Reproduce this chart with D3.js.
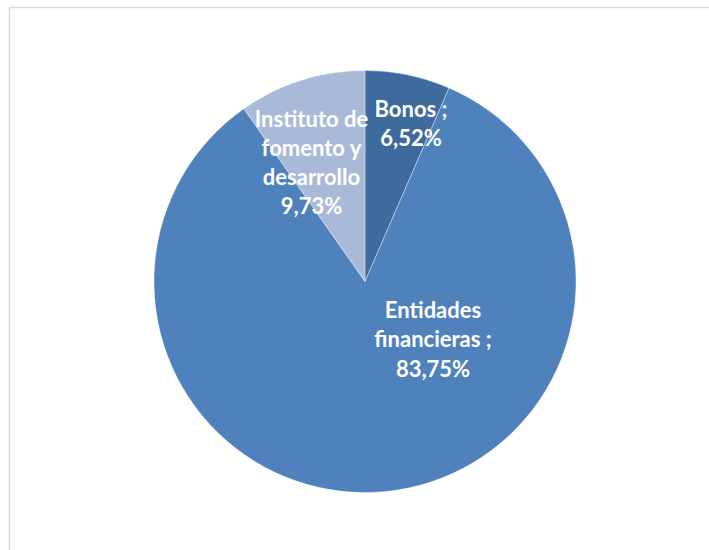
<!DOCTYPE html>
<html>
<head>
<meta charset="utf-8">
<script src="https://cdn.jsdelivr.net/npm/d3@7"></script>
<style>
  html, body { margin: 0; padding: 0; background: #fff; }
  svg { display: block; }
</style>
</head>
<body>
<svg id="chart" width="709" height="550"></svg>
<script>
const categories = ["Bonos", "Entidades financieras", "Instituto de fomento y desarrollo"];
const values = [6.52, 83.75, 9.73];
const labelLines = [
  ["Bonos ;", "6,52%"],
  ["Entidades", "financieras ;", "83,75%"],
  ["Instituto de", "fomento y", "desarrollo", "9,73%"]
];
const colors = ["#3F6A9E", "#4F81BD", "#A9B9D8"];

const W = 709, H = 550;
const cx = 365, cy = 281.5, R = 211;
// label anchor (first baseline) relative to pie centre, layout only
const labelPos = [[46, -164.5], [68, 36.5], [-53.5, -155]];
const lineH = 29.3;

const svg = d3.select("#chart");

// chart area border (extends beyond the picture to the right and bottom)
svg.append("path")
  .attr("d", `M9.5,${H + 5} L9.5,7.5 L${W + 5},7.5`)
  .attr("fill", "none")
  .attr("stroke", "#d9d9d9")
  .attr("stroke-width", 1.5);

const data = categories.map((c, i) => ({ name: c, value: values[i], color: colors[i], lines: labelLines[i], pos: labelPos[i] }));

const pie = d3.pie().value(d => d.value).sort(null);
const arc = d3.arc().innerRadius(0).outerRadius(R);

const g = svg.append("g").attr("transform", `translate(${cx},${cy})`);
const arcs = pie(data);

g.selectAll("path.slice")
  .data(arcs)
  .enter().append("path")
  .attr("class", "slice")
  .attr("d", arc)
  .attr("fill", d => d.data.color)
  .attr("stroke", "#ffffff")
  .attr("stroke-width", 0.6)
  .attr("stroke-opacity", 0.6);

const lab = g.selectAll("text.lab")
  .data(arcs)
  .enter().append("text")
  .attr("class", "lab")
  .attr("text-anchor", "middle")
  .attr("font-family", "Lato, 'Open Sans', sans-serif")
  .attr("font-weight", "bold")
  .attr("font-size", 22)
  .attr("fill", "#ffffff")
  .attr("transform", d => `translate(${d.data.pos[0]},${d.data.pos[1]})`);

lab.each(function(d) {
  const t = d3.select(this);
  d.data.lines.forEach((ln, i) => {
    t.append("tspan").attr("x", 0).attr("y", i * lineH).text(ln);
  });
});
</script>
</body>
</html>
